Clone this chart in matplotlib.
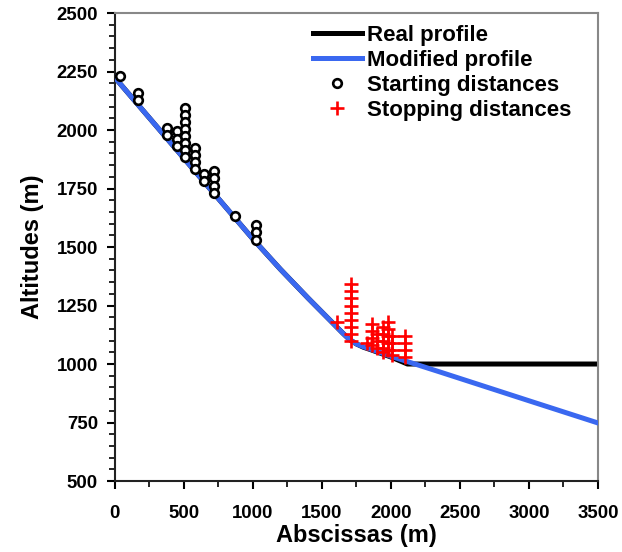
import matplotlib
matplotlib.use("Agg")
import matplotlib.pyplot as plt
from matplotlib.ticker import MultipleLocator

plt.rcParams['font.family'] = ['Liberation Sans', 'DejaVu Sans']
plt.rcParams['font.weight'] = 'bold'

# Real profile (terrain)
real_x = [0, 500, 1000, 1200, 1400, 1558, 1650, 1700, 1750, 1800, 1850, 2000, 2120, 3500]
real_y = [2225, 1880, 1535, 1405, 1282, 1188, 1133, 1105, 1086, 1072, 1062, 1030, 1000, 1000]

# Modified profile
mod_x = [0, 500, 1000, 1200, 1400, 1558, 1650, 1700, 1750, 1800, 1850, 2000, 2350, 3000, 3500]
mod_y = [2225, 1880, 1535, 1405, 1282, 1188, 1133, 1105, 1086, 1074, 1064, 1033, 967, 843, 748]

# Starting distances
start_x = [40, 170, 170, 380, 380, 450, 450, 450,
           510, 510, 510, 510, 510, 510, 510, 510,
           580, 580, 580, 580, 650, 650,
           720, 720, 720, 720, 870, 1020, 1020, 1020]
start_y = [2230, 2160, 2130, 2010, 1980, 1995, 1962, 1930,
           2095, 2065, 2035, 2005, 1975, 1945, 1915, 1885,
           1922, 1892, 1862, 1832, 1812, 1782,
           1825, 1794, 1762, 1731, 1632, 1594, 1563, 1530]

# Stopping distances
stop_x = [1610,
          1710, 1710, 1710, 1710, 1710, 1710, 1710, 1710, 1710,
          1830,
          1860, 1860, 1860, 1860,
          1900, 1900, 1900,
          1940, 1940, 1940, 1940, 1940,
          1980, 1980, 1980, 1980, 1980,
          2010, 2010, 2010, 2010,
          2100, 2100, 2100, 2100]
stop_y = [1180,
          1340, 1310, 1280, 1250, 1220, 1190, 1160, 1130, 1100,
          1090,
          1170, 1140, 1110, 1080,
          1130, 1100, 1070,
          1160, 1130, 1100, 1070, 1050,
          1180, 1150, 1120, 1090, 1060,
          1120, 1090, 1060, 1040,
          1120, 1090, 1060, 1030]

fig = plt.figure(figsize=(6.22, 5.52), dpi=100)
ax = fig.add_axes([0.1844, 0.1286, 0.9614 - 0.1844, 0.9764 - 0.1286])

ax.plot(real_x, real_y, color='black', lw=3.6, label='Real profile', zorder=2)
ax.plot(mod_x, mod_y, color='#3a68f0', lw=3.6, label='Modified profile', zorder=3)
ax.plot(start_x, start_y, linestyle='none', marker='o', markersize=6.2,
        markerfacecolor='white', markeredgecolor='black', markeredgewidth=1.9,
        label='Starting distances', zorder=4)
ax.plot(stop_x, stop_y, linestyle='none', marker='+', markersize=10.5,
        color='#ff0000', markeredgewidth=1.9, label='Stopping distances', zorder=5)

ax.set_xlim(0, 3500)
ax.set_ylim(500, 2500)
ax.xaxis.set_major_locator(MultipleLocator(500))
ax.xaxis.set_minor_locator(MultipleLocator(250))
ax.yaxis.set_major_locator(MultipleLocator(250))
ax.yaxis.set_minor_locator(MultipleLocator(50))
ax.tick_params(which='major', direction='out', length=6, width=1.5, labelsize=13.4)
ax.tick_params(axis='x', which='major', pad=11)
ax.tick_params(axis='y', which='major', pad=6)
ax.tick_params(which='minor', direction='out', length=4, width=1.2)
for lbl in ax.get_xticklabels() + ax.get_yticklabels():
    lbl.set_fontweight('bold')

for s in ['left', 'bottom']:
    ax.spines[s].set_color('#222222')
    ax.spines[s].set_linewidth(1.5)
for s in ['top', 'right']:
    ax.spines[s].set_color('#888888')
    ax.spines[s].set_linewidth(1.5)

ax.set_xlabel('Abscissas (m)', fontsize=17, fontweight='bold', labelpad=2)
ax.set_ylabel('Altitudes (m)', fontsize=17, fontweight='bold', labelpad=9)

leg = ax.legend(loc='upper left', bbox_to_anchor=(0.41, 0.974), frameon=False,
                fontsize=16, handlelength=2.2, handletextpad=0.22,
                labelspacing=0.17, borderaxespad=0.0, borderpad=0.0)
for t in leg.get_texts():
    t.set_fontweight('bold')

fig.savefig('out.png', dpi=100)
